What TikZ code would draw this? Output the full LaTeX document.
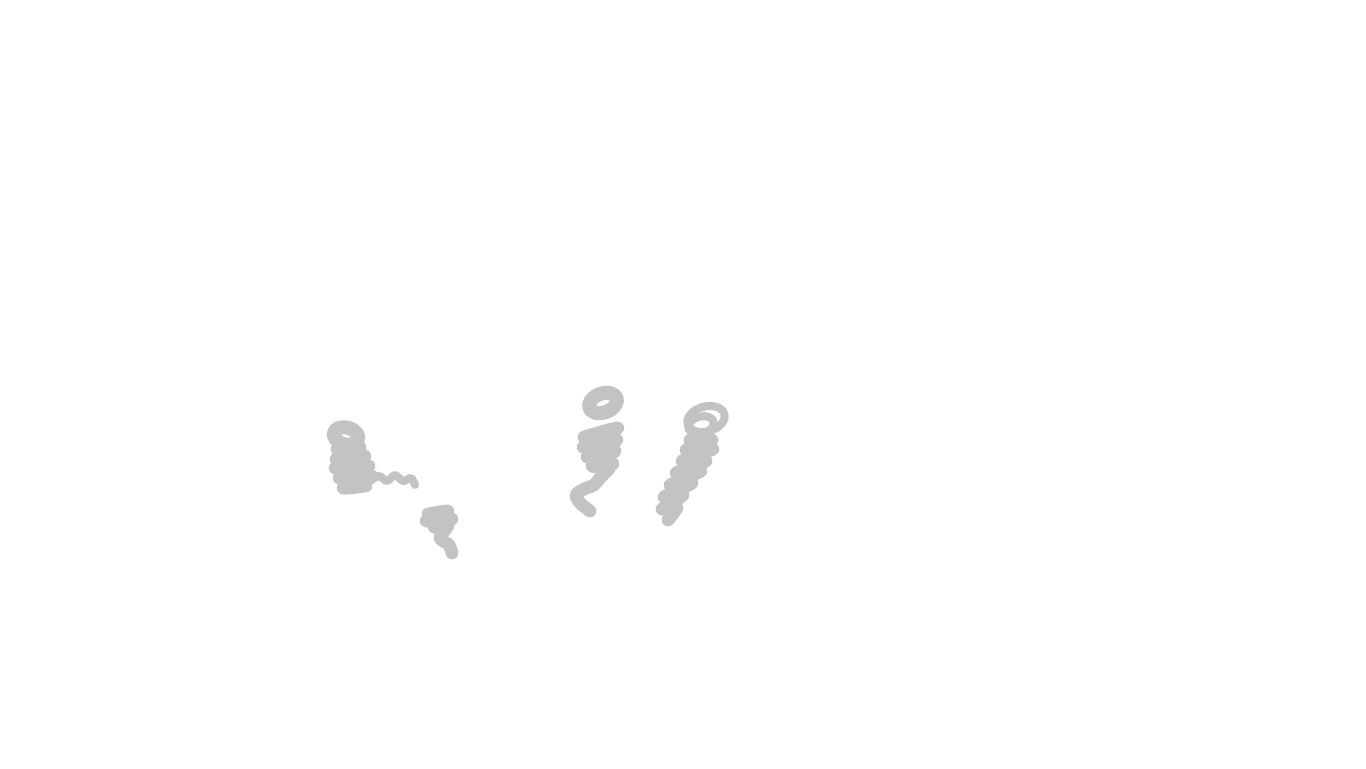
\documentclass[tikz,border=0pt]{standalone}
\usepackage{tikz}
\definecolor{inkgray}{RGB}{195,195,195}
\tikzset{scribble/.style={draw=inkgray,line width=9.5pt,line cap=round,line join=round},
thin scribble/.style={scribble,line width=6pt},
}

\begin{document}
\begin{tikzpicture}[x=0.75pt,y=-0.75pt]
	\useasboundingbox (0,0) rectangle (1366,768);
	
	%% left figure
	\draw[scribble,line width=10.5pt,rotate around={-15:(346,436)}] (346,436) ellipse (12.5 and 8.5);
	\draw[scribble] plot[smooth] coordinates {(337,449) (360,447) (336,459) (365,456) (335,468) (369,466) (339,478) (372,476) (343,488) (366,486)};
	\draw[scribble] plot[smooth] coordinates {(345,452) (352,470) (350,486)};
	\draw[thin scribble] plot[smooth] coordinates {(370,481) (379,476) (387,481) (395,475) (403,481) (411,478) (415,485)};
	
	%% small piece
	\draw[scribble] plot[smooth] coordinates {(428,514) (448,511) (426,521) (452,519) (434,527) (448,526)};
	\draw[scribble] plot[smooth] coordinates {(446,529) (440,538) (449,545) (452,553)};
	
	%% middle figure
	\draw[scribble,line width=10.5pt,rotate around={20:(603,403)}] (603,403) ellipse (14.5 and 9.5);
	\draw[scribble] plot[smooth] coordinates {(584,437) (618,428) (583,447) (617,440) (587,457) (615,451) (592,466) (613,464)};
	\draw[scribble] plot[smooth] coordinates {(600,440) (603,460) (606,468)};
	\draw[scribble] plot[smooth] coordinates {(609,469) (600,478) (594,485) (584,489) (576,495) (580,503) (586,508) (590,511)};
	
	%% right figure
	\draw[thin scribble,rotate around={15:(706,419)}] (706,419) ellipse (19 and 12.5);
	\draw[thin scribble,rotate around={15:(701,425)}] (701,425) ellipse (13 and 8.5);
	\draw[scribble] plot[smooth] coordinates {(690,440) (712,440) (686,450) (713,449) (682,461) (706,461) (676,473) (701,471) (670,485) (692,483) (664,497) (683,495) (662,509) (677,507) (668,520)};
	\draw[scribble] plot[smooth] coordinates {(700,440) (692,462) (682,485) (672,505)};
\end{tikzpicture}
\end{document}
